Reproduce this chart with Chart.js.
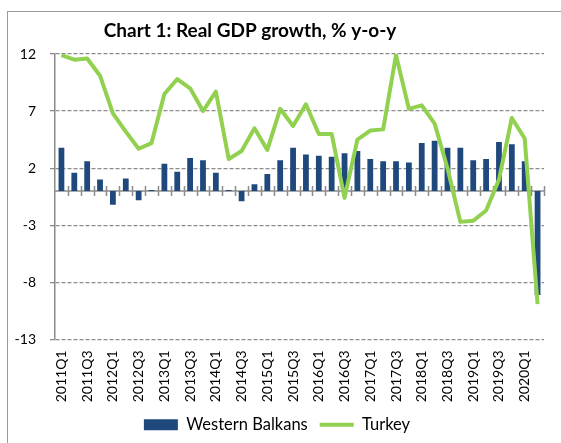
<!DOCTYPE html>
<html>
<head>
<meta charset="utf-8">
<script src="https://cdn.jsdelivr.net/npm/chart.js@4"></script>
<style>
  body { margin: 0; background: #fff; }
  #wrap { position: relative; width: 561px; height: 443px; }
  #frame { position: absolute; left: 7px; top: 11px; right: 0; bottom: 0;
           border-top: 1.5px solid #9a9a9a; border-left: 1.5px solid #9a9a9a; }
  canvas { position: absolute; left: 0; top: 0; }
</style>
</head>
<body>
<div id="wrap">
  <div id="frame"></div>
  <canvas id="chart" width="561" height="443"></canvas>
</div>
<script>
const chartTitle = "Chart 1: Real GDP growth, % y-o-y";

const quarters = [
  "2011Q1", "2011Q2", "2011Q3", "2011Q4", "2012Q1", "2012Q2", "2012Q3", "2012Q4",
  "2013Q1", "2013Q2", "2013Q3", "2013Q4", "2014Q1", "2014Q2", "2014Q3", "2014Q4",
  "2015Q1", "2015Q2", "2015Q3", "2015Q4", "2016Q1", "2016Q2", "2016Q3", "2016Q4",
  "2017Q1", "2017Q2", "2017Q3", "2017Q4", "2018Q1", "2018Q2", "2018Q3", "2018Q4",
  "2019Q1", "2019Q2", "2019Q3", "2019Q4", "2020Q1", "2020Q2",
];

const westernBalkans = [
  3.8, 1.6, 2.6, 1.0, -1.2, 1.1, -0.8, 0.1,
  2.4, 1.7, 2.9, 2.7, 1.6, 0.1, -0.9, 0.6,
  1.5, 2.7, 3.8, 3.2, 3.1, 3.0, 3.3, 3.5,
  2.8, 2.6, 2.6, 2.5, 4.2, 4.4, 3.8, 3.8,
  2.7, 2.8, 4.3, 4.1, 2.6, -9.1,
];

const turkey = [
  11.9, 11.5, 11.6, 10.1, 6.8, 5.2, 3.7, 4.2,
  8.5, 9.8, 9.0, 7.0, 8.7, 2.8, 3.5, 5.5,
  3.6, 7.2, 5.7, 7.6, 5.0, 5.0, -0.6, 4.5,
  5.3, 5.4, 11.9, 7.2, 7.5, 5.9, 2.0, -2.7,
  -2.6, -1.7, 1.0, 6.4, 4.6, -9.9,
];

const yTicks = [-13, -8, -3, 2, 7, 12];

const axisGray = "#8c8c8c";
const fontFamily = "Lato, 'Open Sans', sans-serif";

// Title and the zero axis with crossing tick marks
const decorPlugin = {
  id: "decor",
  beforeDatasetsDraw(chart) {
    const { ctx, scales } = chart;
    const x = scales.x;
    const y0 = scales.y.getPixelForValue(0);
    const step = (x.right - x.left) / quarters.length;
    ctx.save();
    ctx.strokeStyle = axisGray;
    ctx.lineWidth = 1.5;
    ctx.beginPath();
    ctx.moveTo(x.left, y0);
    ctx.lineTo(x.right, y0);
    for (let i = 1; i <= quarters.length; i++) {
      const px = Math.round(x.left + i * step) + 0.5;
      ctx.moveTo(px, y0 - 5);
      ctx.lineTo(px, y0 + 5);
    }
    ctx.stroke();
    ctx.restore();
  },
  afterDraw(chart) {
    const { ctx } = chart;
    ctx.save();
    ctx.font = "bold 19px " + fontFamily;
    ctx.fillStyle = "#000";
    ctx.textAlign = "center";
    ctx.textBaseline = "alphabetic";
    ctx.fillText(chartTitle, 250, 37);
    ctx.restore();
  },
};

new Chart(document.getElementById("chart"), {
  type: "bar",
  data: {
    labels: quarters,
    datasets: [
      {
        label: "Western Balkans",
        data: westernBalkans,
        backgroundColor: "#1f497d",
        borderWidth: 0,
        barPercentage: 0.45,
        categoryPercentage: 1,
        pointStyle: "rect",
        order: 1,
      },
      {
        type: "line",
        label: "Turkey",
        data: turkey,
        borderColor: "#92d050",
        backgroundColor: "#92d050",
        borderWidth: 4,
        pointRadius: 0,
        pointStyle: "line",
        tension: 0,
        borderJoinStyle: "round",
        order: 0,
      },
    ],
  },
  options: {
    responsive: false,
    animation: false,
    devicePixelRatio: 1,
    layout: { padding: { top: 54, left: 10, right: 17, bottom: 0 } },
    scales: {
      x: {
        grid: { display: false },
        border: { display: false },
        ticks: {
          autoSkip: false,
          maxRotation: 90,
          minRotation: 90,
          padding: 3,
          color: "#000",
          font: { family: fontFamily, size: 14 },
          callback: function (value, index) {
            return index % 2 === 0 ? quarters[index] : "";
          },
        },
        afterFit: function (scale) {
          scale.height = 65;
        },
      },
      y: {
        min: -13,
        max: 12,
        afterBuildTicks: function (scale) {
          scale.ticks = yTicks.map((v) => ({ value: v }));
        },
        grid: {
          color: axisGray,
          lineWidth: 1.3,
          tickLength: 5,
          tickBorderDash: [],
          tickColor: axisGray,
        },
        border: { display: true, color: axisGray, width: 1.5, dash: [4, 2] },
        ticks: {
          padding: 14,
          color: "#000",
          font: { family: fontFamily, size: 14 },
        },
        afterFit: function (scale) {
          scale.width = 45;
        },
      },
    },
    plugins: {
      legend: {
        position: "bottom",
        labels: {
          usePointStyle: true,
          pointStyleWidth: 34,
          boxHeight: 11,
          padding: 12,
          color: "#000",
          font: { family: fontFamily, size: 16.5 },
          sort: (a, b) => a.datasetIndex - b.datasetIndex,
        },
      },
      tooltip: { enabled: false },
    },
  },
  plugins: [decorPlugin],
});
</script>
</body>
</html>
